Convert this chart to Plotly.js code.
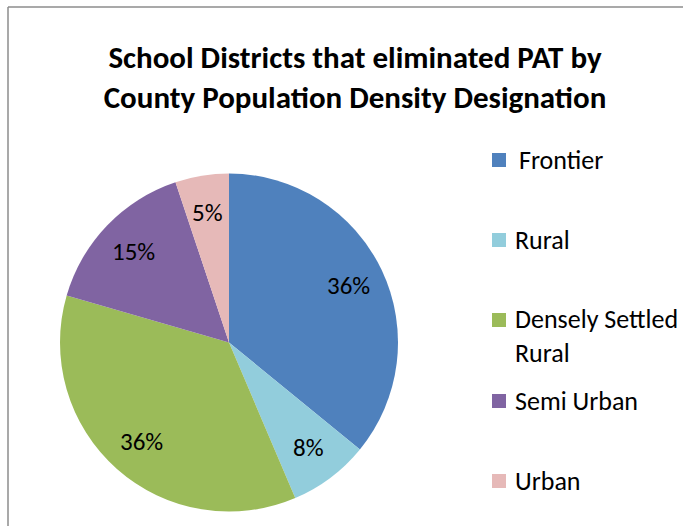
<!DOCTYPE html>
<html>
<head>
<meta charset="utf-8">
<script src="https://cdn.plot.ly/plotly-3.0.1.min.js"></script>
<style>html,body{margin:0;padding:0;background:#fff;}#chart{width:683px;height:526px;}</style>
</head>
<body>
<div id="chart"></div>
<script>
const categories = ["Frontier", "Rural", "Densely Settled Rural", "Semi Urban", "Urban"];
const legendLabels = ["Frontier", "Rural", "Densely Settled<br>Rural", "Semi Urban", "Urban"];
const values = [14, 3, 14, 6, 2];
const colors = ["#4F81BD", "#92CDDC", "#9BBB59", "#8064A2", "#E6B9B8"];
const titleText = "School Districts that eliminated PAT by<br>County Population Density Designation";

const W = 683, H = 526;
const fontFam = "Carlito, Calibri, Lato, 'Open Sans', sans-serif";

// pie domain in pixels
const px0 = 60, px1 = 398, py0 = 173, py1 = 512;

const trace = {
  type: "pie",
  labels: categories,
  values: values,
  sort: false,
  direction: "clockwise",
  rotation: 0,
  marker: {colors: colors, line: {width: 0}},
  textinfo: "none",
  domain: {x: [px0 / W, px1 / W], y: [1 - py1 / H, 1 - py0 / H]},
  showlegend: false,
  hoverinfo: "none"
};

const annotations = [];
// percentage labels, placed along each slice's mid-angle (derived from values)
const total = values.reduce((a, b) => a + b, 0);
const cx = (px0 + px1) / 2, cy = (py0 + py1) / 2, R = (px1 - px0) / 2;
let cum = 0;
values.forEach((v, i) => {
  const mid = (cum + v / 2) / total * 2 * Math.PI;
  cum += v;
  const r = 0.78 * R;
  const lx = cx + r * Math.sin(mid), ly = cy - r * Math.cos(mid);
  annotations.push({xref: "paper", yref: "paper", x: lx / W, y: 1 - ly / H,
    xanchor: "center", yanchor: "middle", showarrow: false,
    text: Math.round(v / total * 100) + "%",
    font: {family: fontFam, size: 25, color: "#000"}});
});

const legendY = [160, 240, 336, 401, 481];
const legendTextX = [517, 513, 513, 513, 513];
const shapes = [
  {type: "line", xref: "paper", yref: "paper", x0: 8 / W, x1: 1.01, y0: 1 - 7 / H, y1: 1 - 7 / H, line: {color: "#8c8c8c", width: 1.5}},
  {type: "line", xref: "paper", yref: "paper", x0: 8 / W, x1: 8 / W, y0: 1 - 7 / H, y1: -0.01, line: {color: "#8c8c8c", width: 1.5}}
];
categories.forEach((c, i) => {
  const sy = i === 2 ? 320 : legendY[i];
  shapes.push({type: "rect", xref: "paper", yref: "paper",
    x0: 492 / W, x1: 506 / W, y0: 1 - (sy + 7) / H, y1: 1 - (sy - 7) / H,
    fillcolor: colors[i], line: {width: 0}});
  annotations.push({xref: "paper", yref: "paper", x: legendTextX[i] / W, y: 1 - legendY[i] / H,
    xanchor: "left", yanchor: "middle", align: "left", showarrow: false,
    text: legendLabels[i], font: {family: fontFam, size: 26, color: "#000"}});
});

const layout = {
  width: W, height: H,
  margin: {l: 0, r: 0, t: 0, b: 0},
  paper_bgcolor: "#fff",
  title: {text: titleText, x: 355 / W, xanchor: "center", y: 1 - 68 / H, yanchor: "middle",
    font: {family: fontFam, size: 31, color: "#000", weight: "bold"}},
  shapes: shapes,
  annotations: annotations
};

Plotly.newPlot("chart", [trace], layout, {displayModeBar: false, staticPlot: true});
</script>
</body>
</html>
